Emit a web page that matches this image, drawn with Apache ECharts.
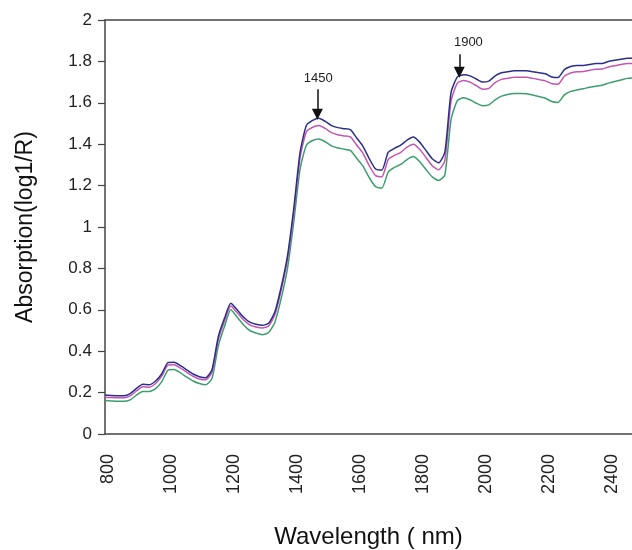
<!DOCTYPE html>
<html>
<head>
<meta charset="utf-8">
<script src="https://cdn.jsdelivr.net/npm/echarts@6/dist/echarts.min.js"></script>
<style>html,body{margin:0;padding:0;background:#fff}#c{width:632px;height:550px}</style>
</head>
<body>
<div id="c"></div>
<script>
var wavelengths = [790,810,830,850,870,890,910,930,950,970,990,1010,1030,1050,1070,1090,1110,1130,1150,1170,1190,1210,1230,1250,1270,1290,1310,1330,1350,1370,1390,1410,1430,1450,1470,1490,1510,1530,1550,1570,1590,1610,1630,1650,1670,1690,1710,1730,1750,1770,1790,1810,1830,1850,1870,1890,1910,1930,1950,1970,1990,2010,2030,2050,2070,2090,2110,2130,2150,2170,2190,2210,2230,2250,2270,2290,2310,2330,2350,2370,2390,2410,2430,2450,2470];
var blueValues = [0.188,0.186,0.185,0.185,0.195,0.220,0.240,0.238,0.255,0.290,0.345,0.347,0.330,0.310,0.290,0.277,0.272,0.310,0.470,0.560,0.632,0.600,0.565,0.540,0.530,0.525,0.535,0.590,0.710,0.860,1.090,1.360,1.490,1.515,1.525,1.510,1.490,1.480,1.475,1.470,1.430,1.390,1.330,1.280,1.275,1.360,1.380,1.395,1.420,1.435,1.410,1.370,1.330,1.310,1.360,1.650,1.725,1.735,1.730,1.715,1.700,1.705,1.730,1.745,1.750,1.755,1.755,1.755,1.750,1.745,1.740,1.725,1.722,1.760,1.775,1.780,1.780,1.785,1.790,1.790,1.800,1.805,1.810,1.815,1.815];
var magentaValues = [0.178,0.176,0.175,0.175,0.184,0.208,0.228,0.226,0.243,0.278,0.333,0.335,0.318,0.298,0.279,0.266,0.262,0.298,0.455,0.546,0.618,0.586,0.552,0.527,0.517,0.512,0.522,0.576,0.695,0.843,1.070,1.335,1.460,1.482,1.490,1.476,1.456,1.446,1.440,1.435,1.396,1.356,1.296,1.248,1.243,1.326,1.346,1.361,1.386,1.400,1.376,1.336,1.296,1.276,1.320,1.610,1.695,1.708,1.700,1.683,1.666,1.670,1.697,1.713,1.718,1.723,1.723,1.723,1.718,1.712,1.706,1.692,1.690,1.728,1.744,1.750,1.751,1.757,1.762,1.763,1.773,1.779,1.785,1.790,1.790];
var greenValues = [0.162,0.160,0.158,0.158,0.165,0.188,0.205,0.205,0.218,0.252,0.308,0.312,0.295,0.275,0.256,0.244,0.238,0.268,0.425,0.520,0.600,0.565,0.528,0.500,0.488,0.480,0.490,0.540,0.655,0.800,1.025,1.280,1.395,1.418,1.425,1.412,1.392,1.382,1.376,1.370,1.332,1.294,1.238,1.195,1.188,1.265,1.288,1.302,1.326,1.340,1.316,1.278,1.242,1.225,1.250,1.520,1.610,1.625,1.615,1.598,1.586,1.590,1.614,1.632,1.640,1.645,1.645,1.644,1.638,1.630,1.622,1.606,1.602,1.638,1.655,1.662,1.668,1.675,1.680,1.685,1.695,1.703,1.710,1.718,1.720];
var xTickLabels = [800,1000,1200,1400,1600,1800,2000,2200,2400];
var peakLabels = ['1450','1900'];
var peakTextPos = [[1468,1.72],[1945,1.89]];
var peakArrows = [[[1465,1.665],[1465,1.545]],[[1916,1.835],[1916,1.748]]];

function pairs(vals){ return wavelengths.map(function(w,i){ return [w, vals[i]]; }); }

var chart = echarts.init(document.getElementById('c'));
var fontFam = '"Liberation Sans", Arial, sans-serif';
chart.setOption({
  animation: false,
  backgroundColor: '#fff',
  grid: {left: 105, top: 20, right: 0, bottom: 116, containLabel: false, outerBoundsMode: 'none'},
  xAxis: [{
    type: 'value', min: 790, max: 2465, position: 'bottom',
    name: 'Wavelength ( nm)', nameLocation: 'middle', nameGap: 91,
    nameTextStyle: {fontSize: 24, color: '#111', fontFamily: fontFam},
    axisLine: {onZero: false, lineStyle: {color: '#444', width: 1.5}},
    axisTick: {show: false},
    splitLine: {show: false},
    axisLabel: {customValues: xTickLabels, rotate: 90, margin: 20, fontSize: 18, color: '#222', fontFamily: fontFam,
                formatter: function(v){ return String(v); }}
  },{
    type: 'value', min: 790, max: 2465, position: 'top',
    axisLine: {show: true, onZero: false, lineStyle: {color: '#444', width: 1.5}},
    axisTick: {show: false}, axisLabel: {show: false}, splitLine: {show: false}
  }],
  yAxis: {
    type: 'value', min: 0, max: 2, interval: 0.2,
    name: 'Absorption(log1/R)', nameLocation: 'middle', nameGap: 68,
    nameTextStyle: {fontSize: 23, color: '#111', fontFamily: fontFam},
    axisLine: {show: true, lineStyle: {color: '#444', width: 1.5}},
    axisTick: {show: true, length: 7, lineStyle: {color: '#444', width: 1.2}},
    splitLine: {show: false},
    axisLabel: {margin: 13, fontSize: 17, color: '#222', fontFamily: fontFam}
  },
  series: [
    {type: 'line', name: 'green', data: pairs(greenValues), showSymbol: false, smooth: 0.2,
     lineStyle: {color: '#3c9e6e', width: 1.5}, itemStyle: {color: '#3c9e6e'}},
    {type: 'line', name: 'magenta', data: pairs(magentaValues), showSymbol: false, smooth: 0.2,
     lineStyle: {color: '#c455b0', width: 1.5}, itemStyle: {color: '#c455b0'}},
    {type: 'line', name: 'blue', data: pairs(blueValues), showSymbol: false, smooth: 0.2,
     lineStyle: {color: '#2b2f8c', width: 1.5}, itemStyle: {color: '#2b2f8c'},
     markLine: {
       silent: true, symbol: ['none', 'triangle'], symbolSize: 11,
       lineStyle: {color: '#111', width: 1.5, type: 'solid'},
       itemStyle: {color: '#111'},
       label: {show: false},
       data: peakArrows.map(function(a){ return [{coord: a[0]}, {coord: a[1]}]; })
     },
     markPoint: {
       silent: true, symbol: 'circle', symbolSize: 0,
       label: {show: true, position: 'inside', fontSize: 13, color: '#222', fontFamily: fontFam,
               formatter: function(p){ return p.name; }},
       data: peakLabels.map(function(t, i){ return {name: t, coord: peakTextPos[i]}; })
     }
    }
  ]
});
</script>
</body>
</html>
